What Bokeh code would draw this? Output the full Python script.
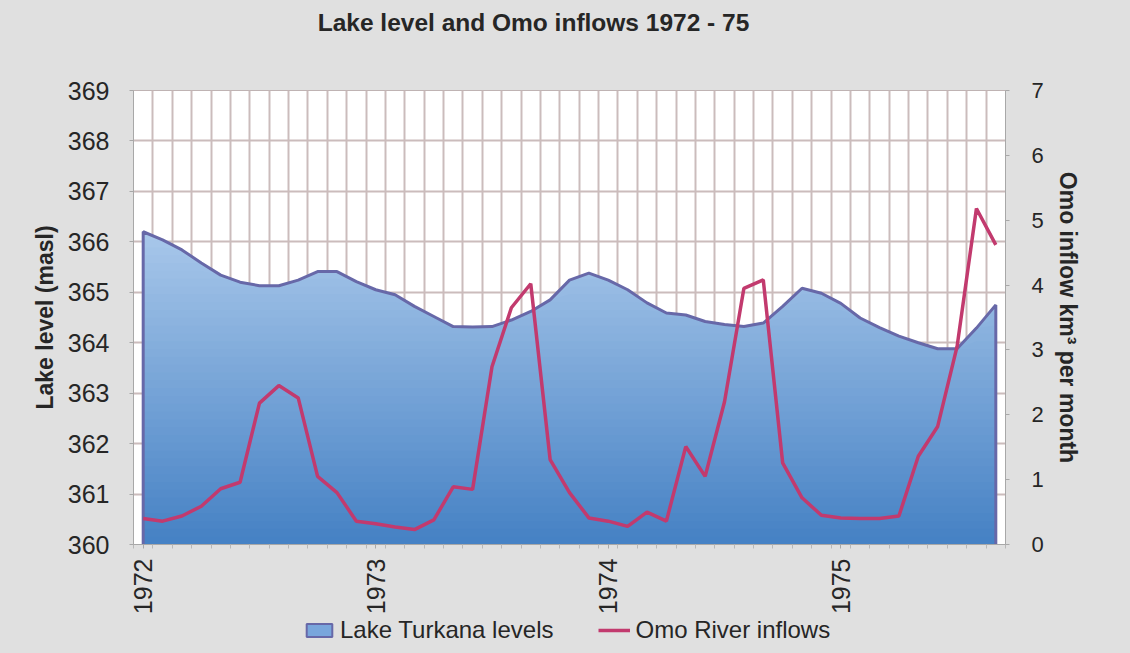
import numpy as np
from bokeh.plotting import figure
from bokeh.layouts import column
from bokeh.models import (Range1d, LinearAxis, FixedTicker, Legend, LegendItem, Label)
from bokeh.embed import file_html
from bokeh.resources import INLINE

# ---------------- data (monthly, Jan 1972 .. Sep 1975) ----------------
years = ["1972", "1973", "1974", "1975"]
lake_level = [366.20, 366.04, 365.84, 365.58, 365.34, 365.20, 365.13, 365.13, 365.24, 365.41,
              365.41, 365.21, 365.05, 364.95, 364.72, 364.52, 364.32, 364.31, 364.32, 364.45,
              364.62, 364.85, 365.24, 365.38, 365.24, 365.05, 364.79, 364.59, 364.55, 364.42,
              364.36, 364.32, 364.39, 364.72, 365.08, 364.98, 364.78, 364.49, 364.30, 364.13,
              364.00, 363.88, 363.88, 364.29, 364.75]
omo_inflow = [0.40, 0.36, 0.44, 0.59, 0.86, 0.96, 2.18, 2.45, 2.26, 1.05,
              0.80, 0.36, 0.32, 0.27, 0.23, 0.38, 0.89, 0.85, 2.74, 3.65,
              4.02, 1.31, 0.80, 0.41, 0.36, 0.28, 0.50, 0.36, 1.51, 1.05,
              2.20, 3.95, 4.08, 1.26, 0.72, 0.45, 0.41, 0.40, 0.40, 0.44,
              1.36, 1.82, 3.05, 5.18, 4.62]
level_ticks = list(range(360, 370))
omo_ticks = list(range(0, 8))
title_text = "Lake level and Omo inflows 1972 - 75"
left_label = "Lake level (masl)"
right_label = "Omo inflow km\u00b3 per month"
legend_labels = ["Lake Turkana levels", "Omo River inflows"]

FONT = "Liberation Sans"
TXT = "#262626"
GRID = "#cbbcbc"
OUTLINE = "#6768a8"
BG = "#e0e0e0"
RED = "#c23a6e"
W = 1130
FRAME_W, FRAME_H = 872, 454


def bare_fig(h):
    f = figure(width=W, height=h, output_backend="svg", toolbar_location=None,
               x_axis_location=None, y_axis_location=None, min_border=0,
               x_range=Range1d(0, 1), y_range=Range1d(-2, -1))
    f.min_border_left = f.min_border_right = f.min_border_top = f.min_border_bottom = 0
    f.background_fill_color = BG
    f.border_fill_color = BG
    f.outline_line_color = None
    for g in f.grid:
        g.visible = False
    return f


n = len(lake_level)
months = np.arange(n)
level = np.array(lake_level)
base = level_ticks[0]
ox = np.concatenate([[months[0]], months, [months[-1]]])
oy = np.concatenate([[base], level, [base]])

# ---------------- title strip ----------------
tfig = bare_fig(44)
tfig.add_layout(Label(x=400, y=22, x_units="screen", y_units="screen", text=title_text,
                      text_align="center", text_baseline="middle", text_font=FONT,
                      text_font_size="24.5px", text_font_style="bold", text_color=TXT))

# ---------------- main chart ----------------
p = figure(frame_width=FRAME_W, frame_height=FRAME_H, output_backend="svg",
           toolbar_location=None,
           x_range=Range1d(-0.5, n - 0.5),
           y_range=Range1d(level_ticks[0], level_ticks[-1]),
           min_border_left=133, min_border_right=W - 133 - FRAME_W,
           min_border_top=46, min_border_bottom=70)
p.background_fill_color = "white"
p.border_fill_color = BG
p.outline_line_color = "#bfb3b3"
p.outline_line_width = 1

p.xgrid.ticker = FixedTicker(ticks=list(months - 0.5) + [n - 0.5])
p.xgrid.grid_line_color = GRID
p.xgrid.grid_line_width = 2
p.ygrid.grid_line_color = GRID
p.ygrid.grid_line_width = 2

xax = p.xaxis[0]
xax.ticker = FixedTicker(ticks=[12 * i for i in range(len(years))],
                         minor_ticks=list(months - 0.5) + [n - 0.5])
xax.major_label_overrides = {12 * i: y for i, y in enumerate(years)}
xax.major_label_orientation = np.pi / 2
xax.major_label_text_font = FONT
xax.major_label_text_font_size = "25px"
xax.major_label_text_color = TXT
xax.major_label_standoff = 10
xax.major_tick_out = 4
xax.major_tick_in = 0
xax.minor_tick_out = 4
xax.minor_tick_in = 0
xax.axis_line_color = "#a8a8a8"
xax.major_tick_line_color = "#a8a8a8"
xax.minor_tick_line_color = "#b8b8b8"

yax = p.yaxis[0]
yax.ticker = FixedTicker(ticks=level_ticks)
yax.axis_label = left_label
yax.axis_label_text_font = FONT
yax.axis_label_text_font_style = "bold"
yax.axis_label_text_font_size = "23px"
yax.axis_label_text_color = TXT
yax.axis_label_standoff = 7
yax.major_label_text_font = FONT
yax.major_label_text_font_size = "25px"
yax.major_label_text_color = TXT
yax.major_label_standoff = 20
yax.major_tick_out = 4
yax.major_tick_in = 0
yax.minor_tick_line_color = None
yax.axis_line_color = "#a8a8a8"
yax.major_tick_line_color = "#a8a8a8"

p.extra_y_ranges = {"omo": Range1d(omo_ticks[0], omo_ticks[-1])}
rax = LinearAxis(y_range_name="omo", ticker=FixedTicker(ticks=omo_ticks))
rax.axis_label = right_label
rax.axis_label_text_font = FONT
rax.axis_label_text_font_style = "bold"
rax.axis_label_text_font_size = "23px"
rax.axis_label_text_color = TXT
rax.axis_label_standoff = 8
rax.major_label_text_font = FONT
rax.major_label_text_font_size = "22px"
rax.major_label_text_color = TXT
rax.major_label_standoff = 22
rax.major_tick_out = 4
rax.major_tick_in = 0
rax.minor_tick_line_color = None
rax.axis_line_color = "#a8a8a8"
rax.major_tick_line_color = "#a8a8a8"
p.add_layout(rax, "right")

# gradient-filled area: stacked bands, lightest/largest first
top_c = np.array([0xa8, 0xc7, 0xea])
bot_c = np.array([0x46, 0x82, 0xc5])
nb = 40
edges = np.linspace(base, level.max(), nb + 1)
for k in range(nb - 1, -1, -1):
    t = k / (nb - 1)
    c = (bot_c + (top_c - bot_c) * t).astype(int)
    col = "#%02x%02x%02x" % tuple(c)
    p.varea(x=months, y1=np.full(n, base), y2=np.minimum(level, edges[k + 1]), fill_color=col)

p.line(ox, oy, line_color=OUTLINE, line_width=3)
p.line(months, omo_inflow, y_range_name="omo", line_color=RED, line_width=3.5)

# ---------------- legend strip ----------------
lfig = bare_fig(39)
sw_area = lfig.patch(ox, oy, fill_color="#79a6dc", line_color=OUTLINE, line_width=2)
sw_line = lfig.line(months, omo_inflow, line_color=RED, line_width=3.5)
legend = Legend(items=[LegendItem(label=legend_labels[0], renderers=[sw_area]),
                       LegendItem(label=legend_labels[1], renderers=[sw_line])],
                orientation="horizontal", location=(170, 12),
                label_text_font=FONT, label_text_font_size="24px",
                label_text_color=TXT, glyph_width=32, glyph_height=16,
                label_height=16, label_standoff=5, spacing=45, padding=0, margin=0,
                background_fill_alpha=0, border_line_color=None)
lfig.add_layout(legend)

layout = column(tfig, p, lfig, spacing=0)
try:
    layout.styles = {"background-color": BG}
except Exception:
    pass
open("out.html", "w").write(file_html(layout, INLINE))
